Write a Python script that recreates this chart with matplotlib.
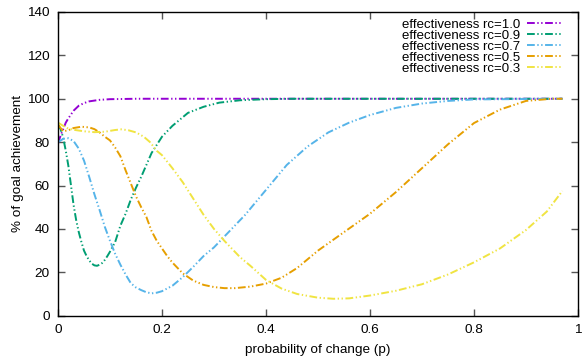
import matplotlib.pyplot as plt

plt.rcParams['font.family'] = ['Liberation Sans', 'DejaVu Sans']

# rc = 1.0
p_10 = [0, 0.005, 0.01, 0.015, 0.02, 0.03, 0.04, 0.05, 0.06, 0.08, 0.1, 0.15, 0.2, 0.3, 0.5, 0.7, 0.97]
v_10 = [79.5, 83, 86, 89, 91, 94.5, 96.8, 98, 98.8, 99.5, 99.8, 100, 100, 100, 100, 100, 100]

# rc = 0.9
p_09 = [0, 0.005, 0.01, 0.015, 0.02, 0.025, 0.03, 0.035, 0.04, 0.045, 0.05, 0.055, 0.06,
        0.065, 0.07, 0.075, 0.08, 0.085, 0.09, 0.095, 0.1, 0.11, 0.12, 0.13, 0.14, 0.15,
        0.16, 0.18, 0.2, 0.22, 0.25, 0.28, 0.31, 0.35, 0.4, 0.45, 0.97]
v_09 = [88, 86, 82, 76, 69, 60, 51, 44, 38.5, 34, 30, 27.5, 25.5,
        24, 23.2, 23, 23.5, 24.3, 25.7, 27.5, 29.5, 34, 41.5, 47, 53.5, 59,
        64, 75, 82.5, 87.5, 93.5, 96.3, 98.2, 99.3, 99.8, 100, 100]

# rc = 0.7
p_07 = [0, 0.01, 0.02, 0.03, 0.04, 0.05, 0.06, 0.07, 0.08, 0.09, 0.1, 0.11, 0.12, 0.13,
        0.14, 0.15, 0.16, 0.17, 0.18, 0.19, 0.2, 0.22, 0.24, 0.26, 0.28, 0.3, 0.33, 0.36,
        0.4, 0.44, 0.48, 0.52, 0.56, 0.6, 0.65, 0.7, 0.75, 0.8, 0.97]
v_07 = [80, 81.5, 81.8, 80.5, 77, 71.5, 64, 56, 48.7, 41, 34.5, 28.5, 23.5, 19,
        15, 13, 11.8, 10.8, 10.3, 10.6, 11.3, 13.8, 17.8, 22.5, 27.5, 31.5, 39, 46.5,
        58, 69.5, 78, 84.5, 89, 92.5, 95.8, 97.8, 99, 99.7, 100]

# rc = 0.5
p_05 = [0, 0.01, 0.02, 0.03, 0.045, 0.06, 0.07, 0.08, 0.09, 0.1, 0.11, 0.12, 0.13, 0.14,
        0.15, 0.16, 0.17, 0.18, 0.19, 0.2, 0.21, 0.22, 0.24, 0.26, 0.28, 0.3, 0.32, 0.34,
        0.37, 0.4, 0.43, 0.46, 0.5, 0.55, 0.6, 0.65, 0.7, 0.75, 0.8, 0.85, 0.9, 0.95, 0.97]
v_05 = [88, 85, 85.5, 86.5, 87.1, 86.8, 86, 84.5, 82.5, 80.8, 77.5, 73.5, 67, 61,
        55, 50, 45.5, 39, 34.5, 31, 27.5, 24.5, 19.5, 16.2, 14.2, 13.2, 12.7, 12.7,
        13.4, 14.8, 17.5, 22, 30, 38.5, 47, 57, 68, 79, 88.8, 95, 99, 100, 100]

# rc = 0.3
p_03 = [0, 0.01, 0.02, 0.033, 0.05, 0.07, 0.09, 0.11, 0.122, 0.135, 0.15, 0.165, 0.177,
        0.19, 0.2, 0.22, 0.24, 0.26, 0.28, 0.3, 0.32, 0.35, 0.37, 0.4, 0.43, 0.46, 0.5,
        0.53, 0.56, 0.6, 0.65, 0.7, 0.75, 0.8, 0.85, 0.9, 0.94, 0.97]
v_03 = [89, 87.5, 86.2, 85.6, 85, 84.6, 84.8, 85.6, 85.9, 85.5, 84.5, 82.5, 80,
        76, 74, 68, 61.5, 54, 46.5, 40, 34.5, 27, 23, 16.5, 12.5, 10, 8.3,
        7.8, 8, 9.3, 11.5, 14.5, 19, 24.6, 31, 39.5, 48, 57.5]

series = [
    (p_10, v_10, 'effectiveness rc=1.0', '#9400d3'),
    (p_09, v_09, 'effectiveness rc=0.9', '#009e73'),
    (p_07, v_07, 'effectiveness rc=0.7', '#56b4e9'),
    (p_05, v_05, 'effectiveness rc=0.5', '#e69f00'),
    (p_03, v_03, 'effectiveness rc=0.3', '#f0e442'),
]

fig = plt.figure(figsize=(5.84, 3.63), dpi=100)
ax = fig.add_axes([0.0993, 0.1303, 0.8904, 0.8367])

dash = (0, (4, 1.3, 0.7, 1.3, 0.7, 1.3))
for p, v, label, color in series:
    ax.plot(p, v, color=color, linewidth=1.4, linestyle=dash, label=label)

ax.set_xlim(0, 1)
ax.set_ylim(0, 140)
ax.set_xticks([0, 0.2, 0.4, 0.6, 0.8, 1])
ax.set_xticklabels(['0', '0.2', '0.4', '0.6', '0.8', '1'])
ax.set_yticks(range(0, 141, 20))

ax.tick_params(direction='in', top=True, right=True, length=5, width=1,
               color='#555555', labelsize=9.7, pad=6)
for s in ax.spines.values():
    s.set_linewidth(1)

ax.set_xlabel('probability of change (p)', fontsize=9.7, labelpad=6)
ax.set_ylabel('% of goal achievement', fontsize=9.7, labelpad=2)

ax.legend(loc='upper right', frameon=False, markerfirst=False, fontsize=9.5,
          handlelength=2.75, handletextpad=0.5, labelspacing=-0.1,
          borderpad=0, borderaxespad=0, bbox_to_anchor=(0.971, 0.978))

fig.savefig('out.png', dpi=100)
